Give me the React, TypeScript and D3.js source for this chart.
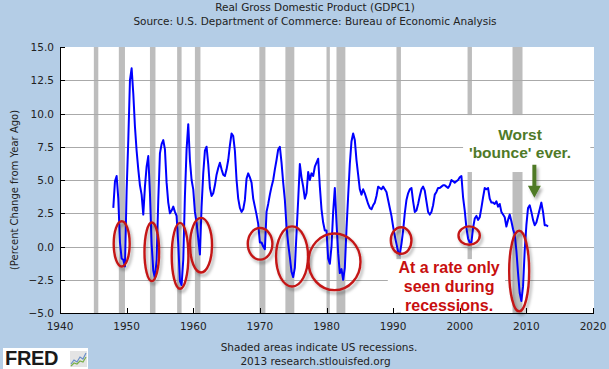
import { useEffect, useRef } from 'react'
import * as d3 from 'd3'

const svgWidth = 609
const svgHeight = 369

// Real GDP, percent change from year ago, quarterly from 1948 Q1 to 2013 Q2
const startYear = 1948
const gdpChange = [
  2.9, 4.9, 5.3, 3.6, // 1948
  0.3, -0.9, -1.0, -1.5, // 1949
  4.2, 8.0, 12.5, 13.4, // 1950
  11.5, 9.0, 7.2, 5.8, // 1951
  4.6, 3.9, 2.4, 4.5, // 1952
  6.0, 6.8, 4.0, 0.2, // 1953
  -1.8, -2.4, -1.0, 3.5, // 1954
  7.0, 7.7, 8.0, 7.3, // 1955
  4.8, 3.3, 2.5, 2.7, // 1956
  3.0, 2.6, 2.3, 0.2, // 1957
  -2.6, -2.9, -1.0, 3.8, // 1958
  7.3, 9.2, 6.5, 5.0, // 1959
  4.3, 2.6, 1.8, 0.6, // 1960
  -0.6, 3.0, 5.5, 7.2, // 1961
  7.5, 6.2, 4.4, 3.8, // 1962
  4.0, 4.6, 5.4, 5.9, // 1963
  6.3, 5.8, 5.4, 5.3, // 1964
  5.8, 6.5, 7.6, 8.5, // 1965
  8.3, 7.2, 5.0, 3.6, // 1966
  2.9, 2.6, 2.8, 3.5, // 1967
  5.1, 5.5, 5.2, 4.8, // 1968
  3.6, 3.0, 2.4, 1.7, // 1969
  0.3, 0.3, 0.0, -0.2, // 1970
  2.6, 3.2, 3.9, 4.5, // 1971
  5.0, 5.8, 6.5, 7.3, // 1972
  7.5, 6.3, 4.8, 3.5, // 1973
  1.5, 0.2, -0.8, -1.9, // 1974
  -2.3, -1.6, 1.0, 3.5, // 1975
  6.2, 5.2, 4.5, 3.6, // 1976
  4.0, 5.6, 5.0, 5.5, // 1977
  5.3, 6.0, 6.3, 6.6, // 1978
  4.5, 2.8, 1.8, 1.2, // 1979
  1.2, -0.9, -1.3, 0.0, // 1980
  2.6, 4.4, 1.8, -0.5, // 1981
  -2.0, -1.7, -2.5, -1.6, // 1982
  1.3, 3.8, 6.2, 7.9, // 1983
  8.5, 8.0, 6.5, 5.4, // 1984
  4.3, 3.9, 4.3, 4.0, // 1985
  3.6, 3.2, 2.9, 2.8, // 1986
  3.1, 3.3, 3.8, 4.5, // 1987
  4.4, 4.3, 4.5, 4.3, // 1988
  4.1, 3.5, 2.9, 2.3, // 1989
  1.5, 0.8, 0.2, -0.4, // 1990
  -0.6, 0.2, 1.2, 2.5, // 1991
  3.5, 4.0, 4.3, 4.4, // 1992
  3.4, 2.6, 2.7, 3.2, // 1993
  3.8, 4.3, 4.5, 4.2, // 1994
  3.4, 2.6, 2.4, 2.6, // 1995
  3.1, 3.9, 4.1, 4.4, // 1996
  4.4, 4.5, 4.6, 4.6, // 1997
  4.5, 4.4, 4.6, 5.0, // 1998
  4.9, 4.8, 4.9, 5.0, // 1999
  5.2, 5.3, 3.7, 2.7, // 2000
  1.4, 0.6, 0.3, 0.3, // 2001
  1.4, 2.1, 2.3, 2.0, // 2002
  2.2, 2.9, 3.7, 4.4, // 2003
  4.3, 4.4, 3.6, 3.3, // 2004
  3.3, 3.2, 3.4, 3.0, // 2005
  3.2, 2.6, 2.4, 2.2, // 2006
  1.5, 2.0, 2.4, 1.9, // 2007
  1.3, 0.9, -0.3, -2.0, // 2008
  -3.5, -4.1, -3.0, -0.3, // 2009
  1.6, 2.9, 3.1, 2.6, // 2010
  2.0, 1.6, 1.8, 2.3, // 2011
  2.8, 3.3, 2.6, 1.6, // 2012
  1.6, 1.5, // 2013
]

// NBER recessions, peak to trough (decimal years)
const recessions: [number, number][] = [
  [1945.08, 1945.75],
  [1948.83, 1949.75],
  [1953.5, 1954.33],
  [1957.58, 1958.25],
  [1960.25, 1961.08],
  [1969.92, 1970.83],
  [1973.83, 1975.17],
  [1980.0, 1980.5],
  [1981.5, 1982.83],
  [1990.5, 1991.17],
  [2001.17, 2001.83],
  [2007.92, 2009.42],
]

const xTicks = [1940, 1950, 1960, 1970, 1980, 1990, 2000, 2010, 2020]
const yTicks = [-5, -2.5, 0, 2.5, 5, 7.5, 10, 12.5, 15]

// dotted "recession rate" level
const rateLevel = 1.4
const rateSpan = [1946.5, 2013.3]

// hand drawn circles: centre year, centre value, half width (years), half height (pct)
const circleYears = [1949.26, 1953.78, 1958.02, 1961.17, 1970.03, 1974.83, 1981.2, 1991.2, 2001.41, 2008.92]
const circleValues = [0.2, -0.4, -0.7, 0.1, 0.2, -0.75, -1.15, 0.45, 0.82, -1.85]
const circleHalfYears = [1.2, 1.1, 1.25, 1.65, 1.85, 2.4, 3.9, 1.55, 1.6, 1.5]
const circleHalfValues = [1.7, 2.2, 2.48, 2.05, 1.19, 2.26, 2.13, 1.0, 0.69, 3.03]

const greenText = ['Worst', "'bounce' ever."]
const redText = ['At a rate only', 'seen during', 'recessions.']

export default function App() {
  const ref = useRef<SVGSVGElement | null>(null)

  useEffect(() => {
    const svg = d3.select(ref.current)
    svg.selectAll('*').remove()

    const margin = { top: 47, right: 16, bottom: 56, left: 60 }
    const x = d3.scaleLinear().domain([1940, 2020]).range([margin.left, svgWidth - margin.right])
    const y = d3.scaleLinear().domain([-5, 15]).range([svgHeight - margin.bottom, margin.top])
    const font = '"DejaVu Sans", Verdana, sans-serif'
    const bold = '"Liberation Sans", Arial, sans-serif'

    const defs = svg.append('defs')
    const f = defs.append('filter').attr('id', 'shadow')
      .attr('x', '-50%').attr('y', '-50%').attr('width', '200%').attr('height', '200%')
    f.append('feDropShadow').attr('dx', 2).attr('dy', 3).attr('stdDeviation', 1.8)
      .attr('flood-color', '#000').attr('flood-opacity', 0.3)

    svg.append('rect').attr('width', svgWidth).attr('height', svgHeight).attr('fill', '#B4CDE6')
    svg.append('rect')
      .attr('x', x(1940)).attr('y', y(15))
      .attr('width', x(2020) - x(1940) + 1).attr('height', y(-5) - y(15))
      .attr('fill', '#fff')

    // recession shading
    svg.append('g').selectAll('rect').data(recessions).enter().append('rect')
      .attr('x', (d) => x(d[0]))
      .attr('width', (d) => x(d[1]) - x(d[0]))
      .attr('y', y(15)).attr('height', y(-5) - y(15))
      .attr('fill', '#BDBDBD')

    // grid
    svg.append('g').selectAll('line').data(yTicks.filter((t) => t > -5 && t < 15)).enter().append('line')
      .attr('x1', x(1940)).attr('x2', x(2020) + 1)
      .attr('y1', (d) => Math.round(y(d)) + 0.5).attr('y2', (d) => Math.round(y(d)) + 0.5)
      .attr('stroke', '#AAAAAA').attr('stroke-width', 1)

    // white boxes behind the pasted notes
    svg.append('rect')
      .attr('x', x(2000.5)).attr('y', y(9.88))
      .attr('width', x(2019.6) - x(2000.5)).attr('height', y(5.6) - y(9.88))
      .attr('fill', '#fff')
    svg.append('rect')
      .attr('x', x(1989.2)).attr('y', y(-0.95))
      .attr('width', x(2006.8) - x(1989.2)).attr('height', y(-4.95) - y(-0.95))
      .attr('fill', '#fff')

    // series
    const pts = gdpChange.map((v, i) => [startYear + i / 4, v] as [number, number])
    const line = d3.line<[number, number]>().x((d) => x(d[0])).y((d) => y(d[1]))
    svg.append('path').datum(pts)
      .attr('d', line)
      .attr('fill', 'none').attr('stroke', '#0000FF').attr('stroke-width', 2)
      .attr('stroke-linejoin', 'round')

    // dotted level line
    svg.append('line')
      .attr('x1', x(rateSpan[0])).attr('x2', x(rateSpan[1]))
      .attr('y1', y(rateLevel)).attr('y2', y(rateLevel))
      .attr('stroke', '#B81414').attr('stroke-width', 3)
      .attr('stroke-dasharray', '3.5 2.6')
      .attr('filter', 'url(#shadow)')

    // circles
    svg.append('g').selectAll('ellipse').data(circleYears).enter().append('ellipse')
      .attr('cx', (d) => x(d))
      .attr('cy', (d, i) => y(circleValues[i]))
      .attr('rx', (d, i) => x(d + circleHalfYears[i]) - x(d))
      .attr('ry', (d, i) => y(circleValues[i] - circleHalfValues[i]) - y(circleValues[i]))
      .attr('fill', 'none').attr('stroke', '#C41818').attr('stroke-width', 2.4)
      .attr('filter', 'url(#shadow)')

    // green note + arrow
    svg.append('g').selectAll('text').data(greenText).enter().append('text')
      .attr('x', x(2009.05))
      .attr('y', (d, i) => y(8.0) + i * 18)
      .attr('text-anchor', 'middle')
      .attr('font-family', bold).attr('font-weight', 'bold').attr('font-size', 15.5)
      .attr('fill', '#4F7A28')
      .text((d) => d)

    const ax = x(2011.2)
    const top = y(6.15)
    const tip = y(3.67)
    const neck = tip - 12
    svg.append('path')
      .attr('d', `M${ax - 2},${top}L${ax + 2},${top}L${ax + 2},${neck}L${ax + 6.5},${neck}L${ax},${tip}L${ax - 6.5},${neck}L${ax - 2},${neck}Z`)
      .attr('fill', '#4F7A28')
      .attr('filter', 'url(#shadow)')

    // red note
    svg.append('g').selectAll('text').data(redText).enter().append('text')
      .attr('x', x(1998.4))
      .attr('y', (d, i) => y(-2.0) + i * 18.7)
      .attr('text-anchor', 'middle')
      .attr('font-family', bold).attr('font-weight', 'bold').attr('font-size', 16)
      .attr('fill', '#C80F0F')
      .text((d) => d)

    // axes
    const axisG = svg.append('g')
    axisG.append('line')
      .attr('x1', x(1940) + 0.5).attr('x2', x(1940) + 0.5)
      .attr('y1', y(15)).attr('y2', y(-5) + 1)
      .attr('stroke', '#000')
    axisG.append('line')
      .attr('x1', x(1940)).attr('x2', x(2020) + 1)
      .attr('y1', Math.round(y(-5)) + 0.5).attr('y2', Math.round(y(-5)) + 0.5)
      .attr('stroke', '#000')
    axisG.selectAll('.xt').data(xTicks).enter().append('line')
      .attr('x1', (d) => Math.round(x(d)) + 0.5).attr('x2', (d) => Math.round(x(d)) + 0.5)
      .attr('y1', y(-5)).attr('y2', y(-5) - 5)
      .attr('stroke', '#000')
    axisG.selectAll('.yt').data(yTicks).enter().append('line')
      .attr('x1', x(1940)).attr('x2', x(1940) + 5)
      .attr('y1', (d) => Math.round(y(d)) + 0.5).attr('y2', (d) => Math.round(y(d)) + 0.5)
      .attr('stroke', '#000')

    const fmt = d3.format('.1f')
    axisG.selectAll('.xl').data(xTicks).enter().append('text')
      .attr('x', (d) => x(d)).attr('y', y(-5) + 17)
      .attr('text-anchor', 'middle')
      .attr('font-family', font).attr('font-size', 10.5).attr('fill', '#222')
      .text((d) => d)
    axisG.selectAll('.yl').data(yTicks).enter().append('text')
      .attr('x', x(1940) - 6).attr('y', (d) => y(d) + 4)
      .attr('text-anchor', 'end')
      .attr('font-family', font).attr('font-size', 10.5).attr('fill', '#222')
      .text((d) => fmt(d))

    svg.append('text')
      .attr('transform', `translate(18,190) rotate(-90)`)
      .attr('text-anchor', 'middle')
      .attr('font-family', font).attr('font-size', 10).attr('fill', '#222')
      .text('(Percent Change from Year Ago)')

    // titles and notes
    const titles = [
      { t: 'Real Gross Domestic Product (GDPC1)', cx: 315, cy: 11 },
      { t: 'Source: U.S. Department of Commerce: Bureau of Economic Analysis', cx: 315, cy: 25 },
      { t: 'Shaded areas indicate US recessions.', cx: 319, cy: 351 },
      { t: '2013 research.stlouisfed.org', cx: 315.5, cy: 365 },
    ]
    svg.append('g').selectAll('text').data(titles).enter().append('text')
      .attr('x', (d) => d.cx).attr('y', (d) => d.cy)
      .attr('text-anchor', 'middle')
      .attr('font-family', font).attr('font-size', 10.5).attr('fill', '#222')
      .text((d) => d.t)

    // FRED logo
    const logo = svg.append('g').attr('transform', 'translate(3,348)')
    logo.append('rect').attr('width', 85).attr('height', 21).attr('fill', '#fff')
    logo.append('text').attr('x', 2).attr('y', 16.5)
      .attr('font-family', bold).attr('font-weight', 'bold').attr('font-size', 20)
      .attr('fill', '#1a1a1a').attr('letter-spacing', -0.3)
      .text('FRED')
    logo.append('rect').attr('x', 67).attr('y', 3).attr('width', 17).attr('height', 16)
      .attr('fill', '#E4E4E4')
    logo.append('path').attr('d', 'M68,16 L71,12 L74,14 L77,9 L80,11 L83,5')
      .attr('fill', 'none').attr('stroke', '#6A8FC8').attr('stroke-width', 1.2)
    logo.append('path').attr('d', 'M68,18 L71,15 L74,16 L77,13 L80,14 L83,9')
      .attr('fill', 'none').attr('stroke', '#7AB04A').attr('stroke-width', 1.2)
  }, [])

  return (
    <svg
      ref={ref}
      width={svgWidth}
      height={svgHeight}
      style={{ position: 'absolute', left: 0, top: 0, display: 'block' }}
    />
  )
}
